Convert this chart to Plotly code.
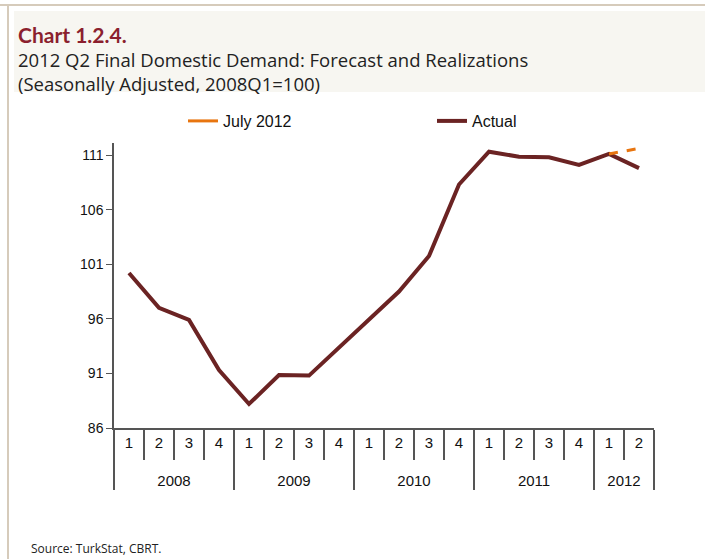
import plotly.graph_objects as go

years = ["2008"] * 4 + ["2009"] * 4 + ["2010"] * 4 + ["2011"] * 4 + ["2012"] * 2
quarters = ["1", "2", "3", "4"] * 4 + ["1", "2"]
actual = [100.2, 97.0, 95.9, 91.3, 88.2, 90.85, 90.8, 93.4, 95.9, 98.5, 101.75, 108.3,
          111.3, 110.85, 110.8, 110.1, 111.1, 109.8]
forecast_years = ["2012", "2012"]
forecast_quarters = ["1", "2"]
forecast = [111.1, 111.6]
y_ticks = [86, 91, 96, 101, 106, 111]

ORANGE = "#E8750F"
BROWN = "#6B2323"

# push year labels one line lower, as in the original chart
def year_label(y):
    return "<br>" + y

fx = [[year_label(y) for y in forecast_years], forecast_quarters]

fig = go.Figure()
fig.add_trace(go.Scatter(
    x=[[year_label(y) for y in years], quarters], y=actual, mode="lines", name="Actual",
    line=dict(color=BROWN, width=4), legendrank=2,
))
fig.add_trace(go.Scatter(
    x=fx, y=forecast, mode="lines", name="July 2012", showlegend=False,
    line=dict(color=ORANGE, width=3, dash="dash"),
))
# legend entry (solid key, as in the original)
fig.add_trace(go.Scatter(
    x=fx, y=[None] * len(forecast), mode="lines", name="July 2012",
    line=dict(color=ORANGE, width=3), legendrank=1, hoverinfo="skip",
))

fig.update_layout(
    width=705, height=559,
    margin=dict(l=114, r=51, t=143, b=131),
    paper_bgcolor="white", plot_bgcolor="white",
    font=dict(family="Liberation Sans, Arial, sans-serif", size=14, color="#111"),
    showlegend=True,
    legend=dict(orientation="h", x=(183 - 114) / 540, y=1 + (143 - 121) / 285,
                xanchor="left", yanchor="middle",
                entrywidth=204, entrywidthmode="pixels", font=dict(size=16),
                bgcolor="rgba(0,0,0,0)"),
    xaxis=dict(
        type="multicategory", showline=True, linecolor="#555", linewidth=1.5,
        ticks="outside", tickson="boundaries", ticklen=30, tickcolor="#555", tickwidth=1.5,
        showdividers=True, dividercolor="#555", dividerwidth=1.5,
        showgrid=False, tickfont=dict(size=15, color="#111"),
        range=[-0.5, 17.5],
    ),
    yaxis=dict(
        range=[86, 112.1], tickvals=y_ticks, showline=True, linecolor="#555", linewidth=1.5,
        ticks="outside", ticklen=6, tickcolor="#555", showgrid=False, zeroline=False,
        tickfont=dict(size=14, color="#111"),
    ),
)

# frame and title box
fig.add_shape(type="line", xref="paper", yref="paper", x0=-114/540, x1=(705-114)/540,
              y0=1 + (143-5)/285, y1=1 + (143-5)/285, line=dict(color="#D6CBBB", width=2))
fig.add_shape(type="line", xref="paper", yref="paper", x0=-(114-8)/540, x1=-(114-8)/540,
              y0=1 + (143-5)/285, y1=-(559-428)/285, line=dict(color="#D6CBBB", width=2))
fig.add_shape(type="rect", xref="paper", yref="paper", x0=-(114-14)/540, x1=(705-114)/540,
              y0=1 + (143-92)/285, y1=1 + (143-11)/285, fillcolor="#F7F6F1", line=dict(width=0),
              layer="below")

TF = "Open Sans, DejaVu Sans, sans-serif"
title_text = (
    "<span style='font-family:Lato, sans-serif;font-size:21px;color:#8B1F2E'>"
    "<b>Chart 1.2.4.</b></span><br>"
    "2012 Q2 Final Domestic Demand: Forecast and Realizations<br>"
    "(Seasonally Adjusted, 2008Q1=100)"
)
fig.add_annotation(xref="paper", yref="paper", x=-(114-16)/540, y=1 + (143-20)/285,
                   xanchor="left", yanchor="top", align="left", showarrow=False,
                   text=title_text, font=dict(family=TF, size=18.5, color="#222"))
fig.add_annotation(xref="paper", yref="paper", x=-(114-29)/540, y=-(548-428)/285,
                   xanchor="left", yanchor="middle", showarrow=False,
                   text="Source: TurkStat, CBRT.",
                   font=dict(family=TF, size=12, color="#222"))

fig.write_html("out.html")
